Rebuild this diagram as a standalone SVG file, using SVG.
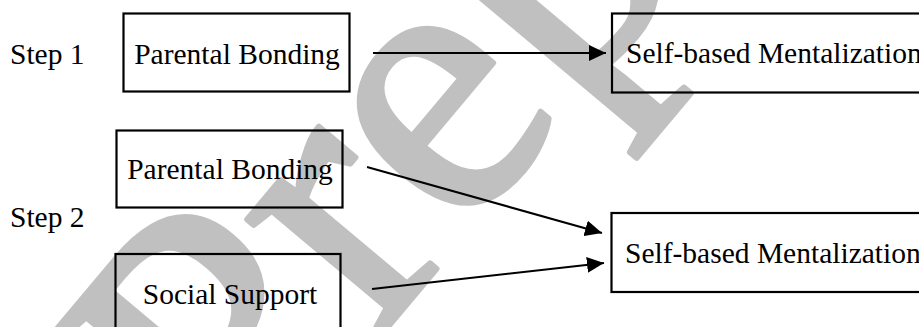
<svg xmlns="http://www.w3.org/2000/svg" width="919" height="327" viewBox="0 0 919 327">
<style>
.wm{font-family:"Liberation Serif","Times New Roman",serif;font-size:385px;fill:#c0c0c0;stroke:#c0c0c0;stroke-width:6;stroke-linejoin:round}
.lbl{font-family:"Liberation Serif","Times New Roman",serif;font-size:29.5px;fill:#000}
.box{fill:none;stroke:#000;stroke-width:2.2}
.conn{stroke:#000;stroke-width:2;fill:none;marker-end:url(#ah)}
</style>
<defs>
<marker id="ah" viewBox="0 0 17 16" refX="17" refY="8" markerWidth="17" markerHeight="16" markerUnits="userSpaceOnUse" orient="auto">
<path d="M0,0 L17,8 L0,16 Z" fill="#000"/>
</marker>
</defs>
<rect width="919" height="327" fill="#fff"/>
<text class="wm" transform="translate(240,503) rotate(-50)">Preprint</text>
<text class="lbl" x="10" y="64">Step 1</text>
<text class="lbl" x="10" y="227">Step 2</text>
<g id="node-pb1">
<rect class="box" x="123.5" y="13.5" width="226" height="78"/>
<text class="lbl" x="237" y="64" text-anchor="middle">Parental Bonding</text>
</g>
<g id="node-sbm1">
<rect class="box" x="612" y="13.5" width="320" height="79"/>
<text class="lbl" x="626" y="63">Self-based Mentalization</text>
</g>
<g id="node-pb2">
<rect class="box" x="116.5" y="130.5" width="226" height="77"/>
<text class="lbl" x="230" y="179" text-anchor="middle">Parental Bonding</text>
</g>
<g id="node-ss">
<rect class="box" x="115.5" y="254" width="225" height="90"/>
<text class="lbl" x="230" y="304" text-anchor="middle">Social Support</text>
</g>
<g id="node-sbm2">
<rect class="box" x="611.5" y="213" width="320" height="79"/>
<text class="lbl" x="625" y="263">Self-based Mentalization</text>
</g>
<g id="connectors">
<line class="conn" x1="373" y1="53" x2="606" y2="53"/>
<line class="conn" x1="367" y1="167" x2="602" y2="233"/>
<line class="conn" x1="372" y1="289" x2="604" y2="263"/>
</g>
</svg>
